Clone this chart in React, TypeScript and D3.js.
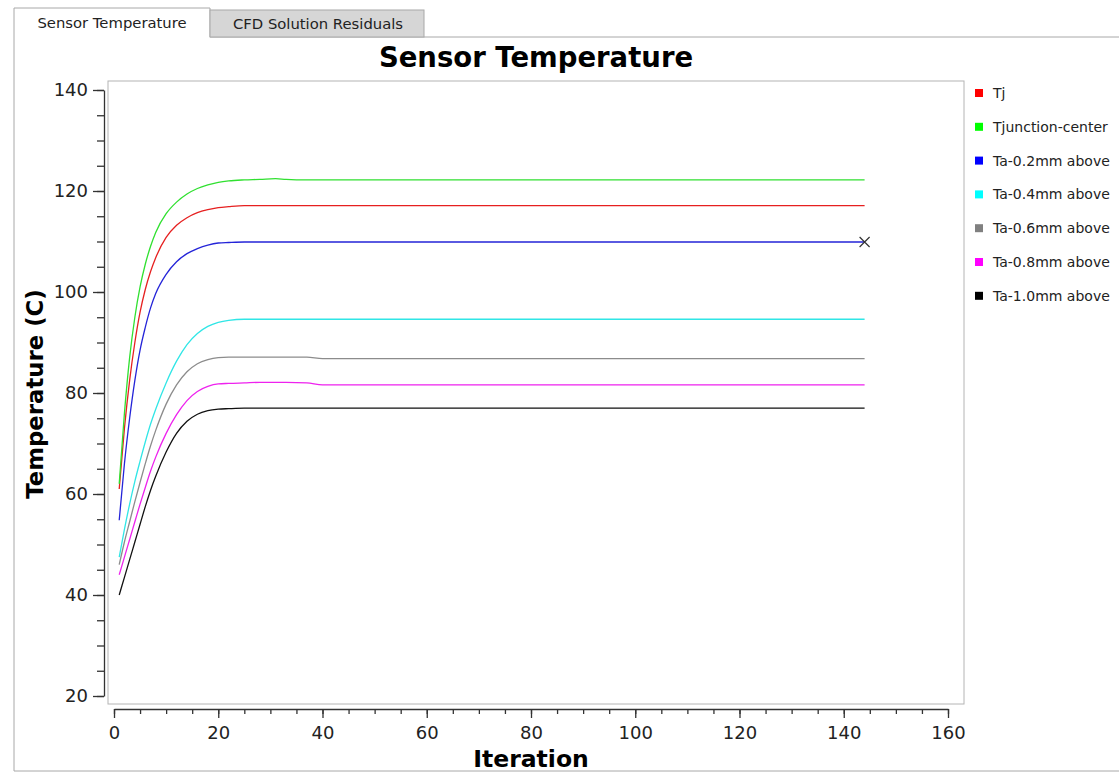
import React, { useRef, useEffect } from 'react';
import { select, scaleLinear, axisLeft, axisBottom, line, curveMonotoneX, range } from 'd3';

const iterations = [1, 2, 3, 4, 5, 6, 7, 8, 10, 12, 14, 16, 18, 20, 22, 25, 28, 31, 33, 37, 40, 144];

const tj = [61, 73, 82.5, 90, 96, 100.5, 104, 106.8, 110.8, 113.2, 114.7, 115.7, 116.3, 116.7, 116.9, 117.1, 117.1, 117.1, 117.1, 117.1, 117.1, 117.1];
const tjCenter = [62, 76, 87, 95, 101, 105.5, 109, 111.8, 115.5, 117.8, 119.4, 120.5, 121.2, 121.7, 122, 122.2, 122.3, 122.45, 122.3, 122.2, 122.2, 122.2];
const ta02 = [54.8, 66, 75, 82.5, 88.5, 93, 96.8, 99.7, 103.5, 106, 107.6, 108.6, 109.3, 109.7, 109.8, 109.9, 109.9, 109.9, 109.9, 109.9, 109.9, 109.9];
const ta04 = [47.5, 53, 58, 62.5, 66.5, 70.3, 73.8, 76.8, 82, 86.3, 89.6, 91.8, 93.2, 94, 94.4, 94.6, 94.6, 94.6, 94.6, 94.6, 94.6, 94.6];
const ta06 = [46, 50.5, 54.5, 58.5, 62.3, 66, 69.5, 72.6, 77.8, 81.6, 84.2, 85.8, 86.6, 87, 87.1, 87.1, 87.1, 87.1, 87.1, 87.1, 86.8, 86.8];
const ta08 = [44, 47.5, 51, 54.5, 58, 61.3, 64.5, 67.3, 72, 75.7, 78.5, 80.3, 81.3, 81.8, 81.9, 82, 82.1, 82.1, 82.1, 82, 81.6, 81.6];
const ta10 = [40, 43.5, 47, 50.5, 54, 57.5, 60.7, 63.5, 68.3, 72, 74.4, 75.8, 76.5, 76.8, 76.9, 77, 77, 77, 77, 77, 77, 77];

const seriesNames = ['Tj', 'Tjunction-center', 'Ta-0.2mm above', 'Ta-0.4mm above', 'Ta-0.6mm above', 'Ta-0.8mm above', 'Ta-1.0mm above'];
const seriesValues = [tj, tjCenter, ta02, ta04, ta06, ta08, ta10];
const lineColors = ['#e62020', '#30e030', '#2424d8', '#30e6e6', '#8c8c8c', '#ee22ee', '#111111'];
const legendColors = ['#ff0000', '#00ff00', '#0000ff', '#00ffff', '#808080', '#ff00ff', '#000000'];

const xTicks = [0, 20, 40, 60, 80, 100, 120, 140, 160];
const yTicks = [20, 40, 60, 80, 100, 120, 140];

const FONT = '"DejaVu Sans", Verdana, sans-serif';

export default function App() {
  const svgRef = useRef<SVGSVGElement>(null);

  useEffect(() => {
    const svg = select(svgRef.current);
    svg.selectAll('*').remove();

    const xScale = scaleLinear().domain([0, 160]).range([114, 948]);
    const yScale = scaleLinear().domain([20, 140]).range([696, 90]);

    // tab panel
    svg.append('path')
      .attr('d', 'M14,771 L14,8 L210,8 L210,37 L1125,37')
      .attr('fill', 'none').attr('stroke', '#a8a8a8');
    svg.append('line').attr('x1', 14).attr('x2', 1125).attr('y1', 771).attr('y2', 771).attr('stroke', '#a8a8a8');
    svg.append('rect').attr('x', 210).attr('y', 10).attr('width', 214).attr('height', 27)
      .attr('fill', '#d6d6d6').attr('stroke', '#a8a8a8');
    svg.append('text').attr('x', 112).attr('y', 28).attr('text-anchor', 'middle')
      .style('font', `14.8px ${FONT}`).attr('fill', '#222').text('Sensor Temperature');
    svg.append('text').attr('x', 318).attr('y', 29).attr('text-anchor', 'middle')
      .style('font', `14.8px ${FONT}`).attr('fill', '#222').text('CFD Solution Residuals');

    // plot box
    svg.append('rect').attr('x', 108).attr('y', 81).attr('width', 856).attr('height', 623)
      .attr('fill', '#fff').attr('stroke', '#b4b4b4');

    // y axis: minor then major
    svg.append('g').attr('transform', 'translate(104,0)')
      .call(axisLeft(yScale).tickValues(range(20, 141, 5)).tickSize(7).tickFormat(() => '').tickSizeOuter(0))
      .call(g => g.select('.domain').remove())
      .call(g => g.selectAll('line').attr('stroke', '#333').attr('stroke-width', 1.3));
    const yAxisG = svg.append('g').attr('transform', 'translate(104,0)')
      .call(axisLeft(yScale).tickValues(yTicks).tickSize(11).tickPadding(5).tickSizeOuter(0));
    yAxisG.select('.domain').attr('stroke', '#333').attr('stroke-width', 1.3);
    yAxisG.selectAll('line').attr('stroke', '#333').attr('stroke-width', 1.3);
    yAxisG.selectAll('text').style('font', `18px ${FONT}`).attr('fill', '#222');

    // x axis
    svg.append('g').attr('transform', 'translate(0,709)')
      .call(axisBottom(xScale).tickValues(range(0, 161, 5)).tickSize(5).tickFormat(() => '').tickSizeOuter(0))
      .call(g => g.select('.domain').remove())
      .call(g => g.selectAll('line').attr('stroke', '#333').attr('stroke-width', 1.3));
    const xAxisG = svg.append('g').attr('transform', 'translate(0,709)')
      .call(axisBottom(xScale).tickValues(xTicks).tickSize(9).tickPadding(8).tickSizeOuter(0));
    xAxisG.select('.domain').attr('stroke', '#333').attr('stroke-width', 1.3);
    xAxisG.selectAll('line').attr('stroke', '#333').attr('stroke-width', 1.3);
    xAxisG.selectAll('text').style('font', `18px ${FONT}`).attr('fill', '#222');

    // titles
    svg.append('text').attr('x', 536).attr('y', 67).attr('text-anchor', 'middle')
      .style('font', `bold 27.5px ${FONT}`).attr('fill', '#000').text('Sensor Temperature');
    svg.append('text').attr('x', 531).attr('y', 767).attr('text-anchor', 'middle')
      .style('font', `bold 23.5px ${FONT}`).attr('fill', '#000').text('Iteration');
    svg.append('text').attr('transform', 'translate(43,394) rotate(-90)').attr('text-anchor', 'middle')
      .style('font', `bold 22.8px ${FONT}`).attr('fill', '#000').text('Temperature (C)');

    // curves
    const myLine = line<number>()
      .x((v, i) => xScale(iterations[i]))
      .y(v => yScale(v))
      .curve(curveMonotoneX);

    svg.selectAll('.series')
      .data(seriesValues)
      .join('path')
      .attr('class', 'series')
      .attr('d', d => myLine(d))
      .attr('fill', 'none')
      .attr('stroke', (d, i) => lineColors[i])
      .attr('stroke-width', 1.3);

    // end marker on the selected series
    const mx = xScale(iterations[iterations.length - 1]);
    const my = yScale(ta02[ta02.length - 1]);
    svg.append('path')
      .attr('d', `M${mx - 5},${my - 5}L${mx + 5},${my + 5}M${mx - 5},${my + 5}L${mx + 5},${my - 5}`)
      .attr('stroke', '#333').attr('stroke-width', 1.2);

    // legend
    const legend = svg.selectAll('.legend')
      .data(seriesNames)
      .join('g')
      .attr('class', 'legend')
      .attr('transform', (d, i) => `translate(975,${93 + i * 33.8})`);
    legend.append('rect').attr('x', 0).attr('y', -4).attr('width', 8).attr('height', 8)
      .attr('fill', (d, i) => legendColors[i]);
    legend.append('text').attr('x', 18).attr('y', 5)
      .style('font', `14px ${FONT}`).attr('fill', '#222').text(d => d);
  }, []);

  return (
    <svg ref={svgRef} width={1119} height={774}
      style={{ position: 'absolute', left: 0, top: 0, background: '#fff' }} />
  );
}
